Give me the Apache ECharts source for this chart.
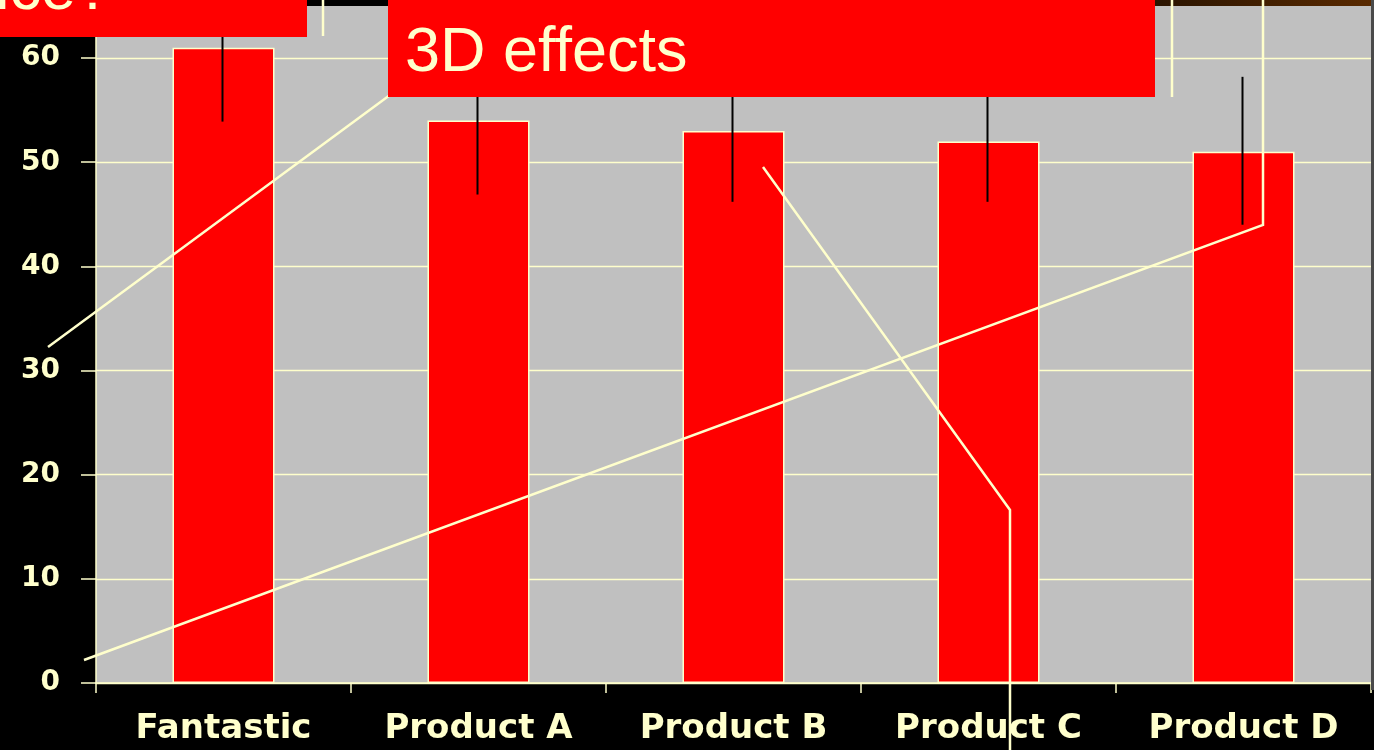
<!DOCTYPE html>
<html>
<head>
<meta charset="utf-8">
<script src="https://cdn.jsdelivr.net/npm/echarts@6/dist/echarts.min.js"></script>
<style>
html,body{margin:0;padding:0;background:#000;}
#c{width:1374px;height:750px;}
</style>
</head>
<body>
<div id="c"></div>
<script>
const categories = ['Fantastic', 'Product A', 'Product B', 'Product C', 'Product D'];
const values = [61, 54, 53, 52, 51];
const errLow = [53.9, 46.9, 46.2, 46.2, 44.0];
const errHigh = [68, 61, 60, 58, 58.2];
const yTicks = [0, 10, 20, 30, 40, 50, 60];

const pale = '#FFFFCC';
const chart = echarts.init(document.getElementById('c'), null, {renderer: 'canvas'});
const errData = categories.map((c, i) => [i, errLow[i], errHigh[i]]);

chart.setOption({
  backgroundColor: '#000000',
  animation: false,
  grid: {left: 96, right: 3, top: 6, bottom: 67, show: true, backgroundColor: '#C0C0C0', borderWidth: 0},
  xAxis: {
    type: 'category',
    data: categories,
    axisLine: {lineStyle: {color: pale, width: 1.5}},
    axisTick: {show: true, length: 10, lineStyle: {color: pale, width: 1.5}},
    axisLabel: {color: pale, fontFamily: 'DejaVu Sans', fontWeight: 'bold', fontSize: 34, margin: 29},
    splitLine: {show: false}
  },
  yAxis: {
    type: 'value',
    min: 0, max: 65, interval: 10,
    axisLine: {show: true, lineStyle: {color: pale, width: 1.5}},
    axisTick: {show: true, length: 15, lineStyle: {color: pale, width: 1.5}},
    axisLabel: {color: pale, fontFamily: 'DejaVu Sans', fontWeight: 'bold', fontSize: 28, margin: 36,
      showMaxLabel: false,
      formatter: v => (yTicks.indexOf(v) >= 0 ? String(v) : '')},
    splitLine: {show: true, showMaxLine: false, lineStyle: {color: pale, width: 1.3}}
  },
  series: [
    {
      type: 'bar',
      data: values,
      barWidth: '40%',
      itemStyle: {color: '#FF0000', borderColor: pale, borderWidth: 1.5},
      z: 2
    },
    {
      type: 'custom',
      data: errData,
      encode: {x: 0, y: [1, 2]},
      z: 5,
      renderItem: function (params, api) {
        const i = api.value(0);
        const lo = api.coord([i, api.value(1)]);
        const hi = api.coord([i, api.value(2)]);
        const x = Math.round(lo[0] - 2) + 0.5;
        return {type: 'line', shape: {x1: x, y1: lo[1], x2: x, y2: hi[1]},
          style: {stroke: '#000000', lineWidth: 2}};
      }
    }
  ],
  graphic: [
    {type: 'rect', z: 100, shape: {x: 1155, y: 0, width: 219, height: 6},
      style: {fill: new echarts.graphic.LinearGradient(0, 0, 1, 0, [{offset: 0, color: '#2a1400'}, {offset: 1, color: '#5a2a00'}])}},
    {type: 'rect', z: 100, shape: {x: 1371, y: 0, width: 3, height: 690}, style: {fill: '#4a4a4a'}},
    {type: 'polyline', z: 101, shape: {points: [[48, 347], [390, 95]]}, style: {stroke: pale, lineWidth: 2.5, fill: null}},
    {type: 'polyline', z: 101, shape: {points: [[84, 660], [1263, 225], [1263, 0]]}, style: {stroke: pale, lineWidth: 2.5, fill: null}},
    {type: 'polyline', z: 101, shape: {points: [[763, 167], [1010, 510], [1010, 750]]}, style: {stroke: pale, lineWidth: 2.5, fill: null}},
    {type: 'line', z: 101, shape: {x1: 323, y1: 0, x2: 323, y2: 36}, style: {stroke: pale, lineWidth: 2.5}},
    {type: 'line', z: 101, shape: {x1: 1172, y1: 0, x2: 1172, y2: 97}, style: {stroke: pale, lineWidth: 2.5}},
    {type: 'rect', z: 102, shape: {x: 0, y: 0, width: 307, height: 37}, style: {fill: '#FF0000'}},
    {type: 'text', z: 103, style: {text: 'Choice?', x: 111, y: -8, fill: pale,
      font: '63px "Liberation Sans", Arial, sans-serif', textAlign: 'right', textVerticalAlign: 'middle', verticalAlign: 'middle'}},
    {type: 'rect', z: 102, shape: {x: 388, y: 0, width: 767, height: 97}, style: {fill: '#FF0000'}},
    {type: 'text', z: 103, style: {text: '3D effects', x: 405, y: 54, fill: pale,
      font: '63px "Liberation Sans", Arial, sans-serif', textAlign: 'left', textVerticalAlign: 'middle', verticalAlign: 'middle'}}
  ]
});
</script>
</body>
</html>
